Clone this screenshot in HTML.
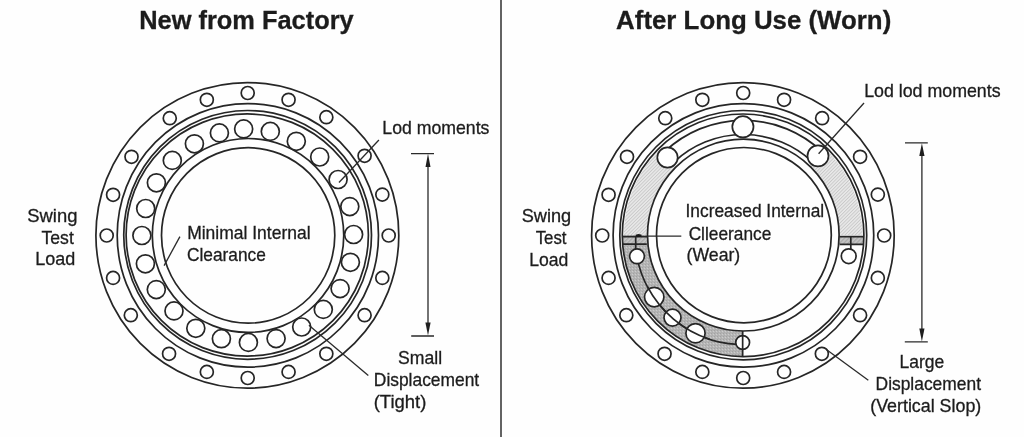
<!DOCTYPE html>
<html><head><meta charset="utf-8"><title>Bearing wear diagram</title>
<style>
html,body{margin:0;padding:0;background:#fefefe;}
body{width:1024px;height:437px;overflow:hidden;}
svg{display:block;filter:grayscale(1) blur(0.3px);}
text{font-family:"Liberation Sans",sans-serif;fill:#1c1c1c;stroke:#1c1c1c;stroke-width:0.3px;}
</style></head><body>
<svg width="1024" height="437" viewBox="0 0 1024 437">
<defs>
<pattern id="hatch" width="2.4" height="2.4" patternUnits="userSpaceOnUse" patternTransform="rotate(-45)">
<rect width="2.4" height="2.4" fill="#e9e9e9"/><rect width="2.4" height="0.9" fill="#c8c8c8"/>
</pattern>
<pattern id="band" width="3" height="3" patternUnits="userSpaceOnUse" patternTransform="rotate(-45)">
<rect width="3" height="3" fill="#c6c6c6"/><rect width="3" height="1.3" fill="#a8a8a8"/>
</pattern>
<pattern id="stip" width="3" height="3" patternUnits="userSpaceOnUse">
<rect width="3" height="3" fill="#b5b5b5"/><rect x="0" y="0" width="1" height="1" fill="#a2a2a2"/><rect x="2" y="1" width="1" height="1" fill="#cccccc"/><rect x="1" y="2" width="1" height="1" fill="#acacac"/>
</pattern>
</defs>
<rect width="1024" height="437" fill="#fefefe"/>
<g id="shapes">
<g fill="none" stroke="#262626" stroke-width="1.7">
<ellipse cx="247.35" cy="235.40" rx="151.45" ry="152.80" />
<ellipse cx="247.85" cy="235.35" rx="130.65" ry="131.75" />
<ellipse cx="247.62" cy="234.90" rx="123.88" ry="124.40" />
<ellipse cx="247.25" cy="235.00" rx="121.15" ry="121.10" />
<ellipse cx="248.03" cy="235.45" rx="95.72" ry="96.95" />
<ellipse cx="248.15" cy="235.45" rx="86.65" ry="87.75" />
<circle cx="388.70" cy="235.50" r="6.50" />
<circle cx="382.32" cy="194.62" r="6.50" />
<circle cx="364.59" cy="155.82" r="6.50" />
<circle cx="326.34" cy="117.22" r="6.50" />
<circle cx="288.57" cy="99.82" r="6.50" />
<circle cx="247.70" cy="93.00" r="6.50" />
<circle cx="206.83" cy="99.82" r="6.50" />
<circle cx="169.76" cy="118.22" r="6.50" />
<circle cx="131.51" cy="156.82" r="6.50" />
<circle cx="113.08" cy="194.82" r="6.50" />
<circle cx="106.70" cy="235.50" r="6.50" />
<circle cx="113.08" cy="277.88" r="6.50" />
<circle cx="130.81" cy="315.18" r="6.50" />
<circle cx="169.06" cy="353.78" r="6.50" />
<circle cx="206.83" cy="371.88" r="6.50" />
<circle cx="247.70" cy="378.00" r="6.50" />
<circle cx="288.57" cy="371.88" r="6.50" />
<circle cx="326.34" cy="353.78" r="6.50" />
<circle cx="364.59" cy="315.18" r="6.50" />
<circle cx="382.32" cy="277.88" r="6.50" />
<circle cx="141.90" cy="235.50" r="9.00" fill="#fff"/>
<circle cx="145.70" cy="208.50" r="9.00" fill="#fff"/>
<circle cx="156.40" cy="182.80" r="9.00" fill="#fff"/>
<circle cx="172.30" cy="160.40" r="9.00" fill="#fff"/>
<circle cx="194.40" cy="143.80" r="9.00" fill="#fff"/>
<circle cx="219.40" cy="132.90" r="9.00" fill="#fff"/>
<circle cx="243.65" cy="128.90" r="9.00" fill="#fff"/>
<circle cx="270.30" cy="131.40" r="9.00" fill="#fff"/>
<circle cx="296.30" cy="141.30" r="9.00" fill="#fff"/>
<circle cx="319.70" cy="157.00" r="9.00" fill="#fff"/>
<circle cx="338.10" cy="179.50" r="9.00" fill="#fff"/>
<circle cx="349.80" cy="206.60" r="9.00" fill="#fff"/>
<circle cx="353.60" cy="234.50" r="9.00" fill="#fff"/>
<circle cx="145.40" cy="263.80" r="9.00" fill="#fff"/>
<circle cx="156.30" cy="289.60" r="9.00" fill="#fff"/>
<circle cx="174.00" cy="310.90" r="9.00" fill="#fff"/>
<circle cx="195.80" cy="328.30" r="9.00" fill="#fff"/>
<circle cx="221.40" cy="338.70" r="9.00" fill="#fff"/>
<circle cx="248.40" cy="342.40" r="9.00" fill="#fff"/>
<circle cx="276.10" cy="338.60" r="9.00" fill="#fff"/>
<circle cx="301.70" cy="327.00" r="9.00" fill="#fff"/>
<circle cx="323.30" cy="309.40" r="9.00" fill="#fff"/>
<circle cx="340.10" cy="288.60" r="9.00" fill="#fff"/>
<circle cx="350.40" cy="262.30" r="9.00" fill="#fff"/>
</g>
<g stroke="none">
<path d="M862.40,235.30 A119.30,119.80 0 0 0 825.22,148.40 L809.24,165.54 A95.80,95.90 0 0 1 839.10,235.10 Z" fill="url(#hatch)"/>
<path d="M659.48,149.85 A119.30,119.80 0 0 0 623.80,235.30 L647.50,235.10 A95.80,95.90 0 0 1 676.15,166.70 Z" fill="url(#hatch)"/>
<path d="M622.30,235.30 A120.80,121.30 0 0 0 743.10,356.60 L743.30,331.00 A95.80,95.90 0 0 1 647.50,235.10 Z" fill="url(#stip)"/>
<rect x="622.3" y="236.6" width="25.2" height="7.6" fill="url(#band)"/>
<rect x="839.1" y="236.6" width="24.8" height="7.7" fill="url(#band)"/>
</g>
<g fill="none" stroke="#262626" stroke-width="1.7">
<ellipse cx="742.90" cy="235.40" rx="151.30" ry="152.80" />
<ellipse cx="743.42" cy="235.35" rx="130.32" ry="131.75" />
<ellipse cx="743.25" cy="235.15" rx="123.45" ry="124.65" />
<ellipse cx="743.10" cy="235.30" rx="120.80" ry="121.30" />
<ellipse cx="743.30" cy="235.10" rx="95.80" ry="95.90" />
<ellipse cx="743.90" cy="235.15" rx="87.40" ry="87.65" />
<circle cx="884.20" cy="235.50" r="6.50" />
<circle cx="877.82" cy="194.62" r="6.50" />
<circle cx="860.09" cy="156.82" r="6.50" />
<circle cx="822.14" cy="118.22" r="6.50" />
<circle cx="784.07" cy="99.82" r="6.50" />
<circle cx="743.20" cy="93.00" r="6.50" />
<circle cx="702.33" cy="99.82" r="6.50" />
<circle cx="665.26" cy="118.22" r="6.50" />
<circle cx="627.01" cy="156.82" r="6.50" />
<circle cx="608.58" cy="194.82" r="6.50" />
<circle cx="602.20" cy="235.50" r="6.50" />
<circle cx="608.58" cy="277.88" r="6.50" />
<circle cx="626.31" cy="315.18" r="6.50" />
<circle cx="664.56" cy="353.78" r="6.50" />
<circle cx="702.33" cy="371.88" r="6.50" />
<circle cx="743.20" cy="378.00" r="6.50" />
<circle cx="784.07" cy="371.88" r="6.50" />
<circle cx="821.84" cy="353.78" r="6.50" />
<circle cx="860.09" cy="315.18" r="6.50" />
<circle cx="877.82" cy="277.88" r="6.50" />
<path d="M821.46,151.19 A114.60,115.00 0 0 0 665.14,151.19"/>
<path d="M812.05,161.58 A100.80,100.80 0 0 0 674.55,161.58"/>
<path d="M636.70,256.16 A108.60,109.30 0 0 0 737.62,344.45"/>
<path d="M622.4,236.6 H647.4 M622.8,244.1 H646.8 M635.7,236.6 V249"/>
<path d="M839.2,236.6 H863.8 M839.6,244.3 H863.4 M850.8,236.6 V249.5"/>
<path d="M742.65,331 V356.6"/>
<circle cx="742.90" cy="126.80" r="10.60" fill="#fff"/>
<circle cx="667.50" cy="157.50" r="10.20" fill="#fff"/>
<circle cx="818.00" cy="155.90" r="10.50" fill="#fff"/>
<circle cx="637.00" cy="256.30" r="7.40" fill="#fff"/>
<circle cx="848.70" cy="256.20" r="7.40" fill="#fff"/>
<circle cx="654.20" cy="297.10" r="9.70" fill="#fff"/>
<circle cx="672.50" cy="317.60" r="8.50" fill="#fff"/>
<circle cx="695.50" cy="333.20" r="9.60" fill="#fff"/>
<circle cx="742.65" cy="342.50" r="6.90" fill="#fff"/>
<path d="M647.41,286.61 A108.60,109.30 0 0 0 709.74,339.25"/>
<path d="M742.65,335 V350"/>
</g>
<ellipse cx="638.6" cy="235.4" rx="3.0" ry="1.5" fill="#1a1a1a"/>
<line x1="501" y1="0" x2="501" y2="437" stroke="#3c3c3c" stroke-width="1.6"/>
<g fill="none" stroke="#2a2a2a" stroke-width="1.3">
<path d="M378.9,140 L339.0,182.5"/>
<path d="M179.9,236.6 L164.1,265.6"/>
<path d="M308.9,325.2 L368.3,375.6"/>
<path d="M864,103 L818.6,153.8"/>
<path d="M647.4,236.1 H681.3"/>
<path d="M826,349.3 L868.3,380.2"/>
<path d="M411,153.6 H434 M411.2,336 H434 M428,160 V330"/>
<path d="M905,142.9 H927.8 M904.8,341.9 H927.8 M921.9,150 V336"/>
</g>
<g fill="#1e1e1e" stroke="none">
<path d="M428,153.8 L430.5,167 L425.5,167 Z"/>
<path d="M428,335.6 L430.6,322.6 L425.4,322.6 Z"/>
<path d="M921.9,143.2 L924.5,156 L919.3,156 Z"/>
<path d="M921.9,341.4 L924.5,328.6 L919.3,328.6 Z"/>
</g>
</g>
<g id="labels">
<text id="t0" x="139.28" y="29.20" font-size="25" font-weight="bold" fill="#111" textLength="214.40" lengthAdjust="spacingAndGlyphs">New from Factory</text>
<text id="t1" x="616.14" y="29.20" font-size="25" font-weight="bold" fill="#111" textLength="275.13" lengthAdjust="spacingAndGlyphs">After Long Use (Worn)</text>
<text id="t2" x="27.25" y="221.90" font-size="17.9" textLength="50.14" lengthAdjust="spacingAndGlyphs">Swing</text>
<text id="t3" x="41.52" y="243.60" font-size="17.9" textLength="32.25" lengthAdjust="spacingAndGlyphs">Test</text>
<text id="t4" x="35.39" y="265.40" font-size="17.9" textLength="40.00" lengthAdjust="spacingAndGlyphs">Load</text>
<text id="t5" x="382.34" y="133.70" font-size="17.9" textLength="107.13" lengthAdjust="spacingAndGlyphs">Lod moments</text>
<text id="t6" x="187.15" y="238.60" font-size="17.9" textLength="123.44" lengthAdjust="spacingAndGlyphs">Minimal Internal</text>
<text id="t7" x="186.98" y="260.65" font-size="17.9" textLength="78.88" lengthAdjust="spacingAndGlyphs">Clearance</text>
<text id="t8" x="398.06" y="363.80" font-size="17.9" textLength="44.11" lengthAdjust="spacingAndGlyphs">Small</text>
<text id="t9" x="373.84" y="385.75" font-size="17.9" textLength="105.37" lengthAdjust="spacingAndGlyphs">Displacement</text>
<text id="t10" x="373.73" y="407.70" font-size="17.9" textLength="52.63" lengthAdjust="spacingAndGlyphs">(Tight)</text>
<text id="t11" x="521.71" y="222.00" font-size="17.9" textLength="49.45" lengthAdjust="spacingAndGlyphs">Swing</text>
<text id="t12" x="535.63" y="243.80" font-size="17.9" textLength="30.87" lengthAdjust="spacingAndGlyphs">Test</text>
<text id="t13" x="529.14" y="266.10" font-size="17.9" textLength="39.10" lengthAdjust="spacingAndGlyphs">Load</text>
<text id="t14" x="864.17" y="96.90" font-size="17.9" textLength="136.44" lengthAdjust="spacingAndGlyphs">Lod lod moments</text>
<text id="t15" x="685.56" y="217.30" font-size="17.9" textLength="138.56" lengthAdjust="spacingAndGlyphs">Increased Internal</text>
<text id="t16" x="688.63" y="239.50" font-size="17.9" textLength="82.63" lengthAdjust="spacingAndGlyphs">Clleerance</text>
<text id="t17" x="686.59" y="260.90" font-size="17.9" textLength="53.66" lengthAdjust="spacingAndGlyphs">(Wear)</text>
<text id="t18" x="899.51" y="367.90" font-size="17.9" textLength="44.69" lengthAdjust="spacingAndGlyphs">Large</text>
<text id="t19" x="875.57" y="389.90" font-size="17.9" textLength="105.41" lengthAdjust="spacingAndGlyphs">Displacement</text>
<text id="t20" x="870.23" y="411.85" font-size="17.9" textLength="111.03" lengthAdjust="spacingAndGlyphs">(Vertical Slop)</text>
</g>
</svg>
</body></html>
